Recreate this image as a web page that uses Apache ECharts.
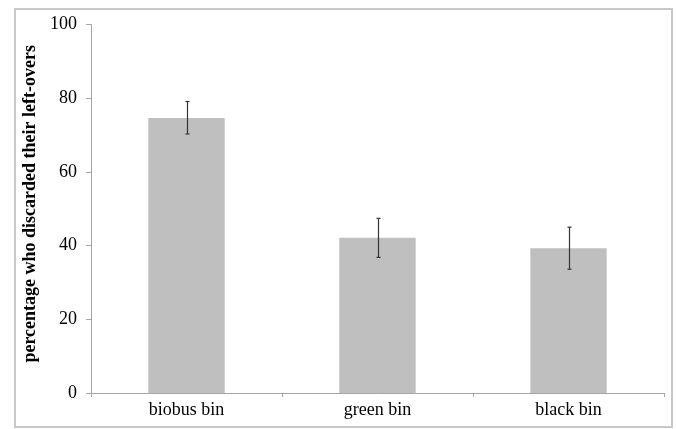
<!DOCTYPE html>
<html>
<head>
<meta charset="utf-8">
<script src="https://cdn.jsdelivr.net/npm/echarts@6/dist/echarts.min.js"></script>
<style>html,body{margin:0;padding:0;background:#fff}#c{width:676px;height:429px}</style>
</head>
<body>
<div id="c"></div>
<script>
var categories = ['biobus bin', 'green bin', 'black bin'];
var values = [74.6, 42.1, 39.3];
var errLow = [70.3, 36.8, 33.6];
var errHigh = [79.1, 47.4, 45.0];
var yTicks = [0, 20, 40, 60, 80, 100];

var chart = echarts.init(document.getElementById('c'));
var font = '"Liberation Serif", "Times New Roman", serif';
chart.setOption({
  animation: false,
  backgroundColor: '#fff',
  graphic: [{
    type: 'rect', shape: {x: 15, y: 9, width: 657, height: 418},
    style: {fill: 'none', stroke: '#c8c8c8', lineWidth: 2}, silent: true
  }],
  grid: {left: 91, top: 24.5, right: 12, bottom: 36},
  xAxis: {
    type: 'category', data: categories,
    axisLine: {lineStyle: {color: '#a6a6a6', width: 1}},
    axisTick: {show: true, length: 4, lineStyle: {color: '#a6a6a6'}},
    axisLabel: {color: '#000', fontFamily: font, fontSize: 18, margin: 8}
  },
  yAxis: {
    type: 'value', min: 0, max: 100, interval: 20,
    name: 'percentage who discarded their left-overs',
    nameLocation: 'middle', nameGap: 35,
    nameTextStyle: {color: '#000', fontFamily: font, fontSize: 18, fontWeight: 'bold', padding: [0, 0, 0, 10]},
    axisLine: {show: true, lineStyle: {color: '#a6a6a6', width: 1}},
    axisTick: {show: true, length: 5, lineStyle: {color: '#a6a6a6'}},
    axisLabel: {color: '#000', fontFamily: font, fontSize: 18, margin: 14,
      formatter: function (v) { return yTicks.indexOf(v) >= 0 ? String(v) : ''; }},
    splitLine: {show: false}
  },
  series: [{
    type: 'bar', data: values, barWidth: '40%',
    itemStyle: {color: '#bfbfbf'}
  }, {
    type: 'custom',
    data: categories.map(function (c, i) { return [i, errLow[i], errHigh[i]]; }),
    z: 10,
    renderItem: function (params, api) {
      var lo = api.coord([api.value(0), api.value(1)]);
      var hi = api.coord([api.value(0), api.value(2)]);
      var x = Math.round(lo[0]) + 0.5, w = 2;
      var st = {stroke: '#333', lineWidth: 1.2};
      return {type: 'group', children: [
        {type: 'line', shape: {x1: x, y1: hi[1], x2: x, y2: lo[1]}, style: st},
        {type: 'line', shape: {x1: x - w, y1: hi[1], x2: x + w, y2: hi[1]}, style: st},
        {type: 'line', shape: {x1: x - w, y1: lo[1], x2: x + w, y2: lo[1]}, style: st}
      ]};
    }
  }]
});
</script>
</body>
</html>
